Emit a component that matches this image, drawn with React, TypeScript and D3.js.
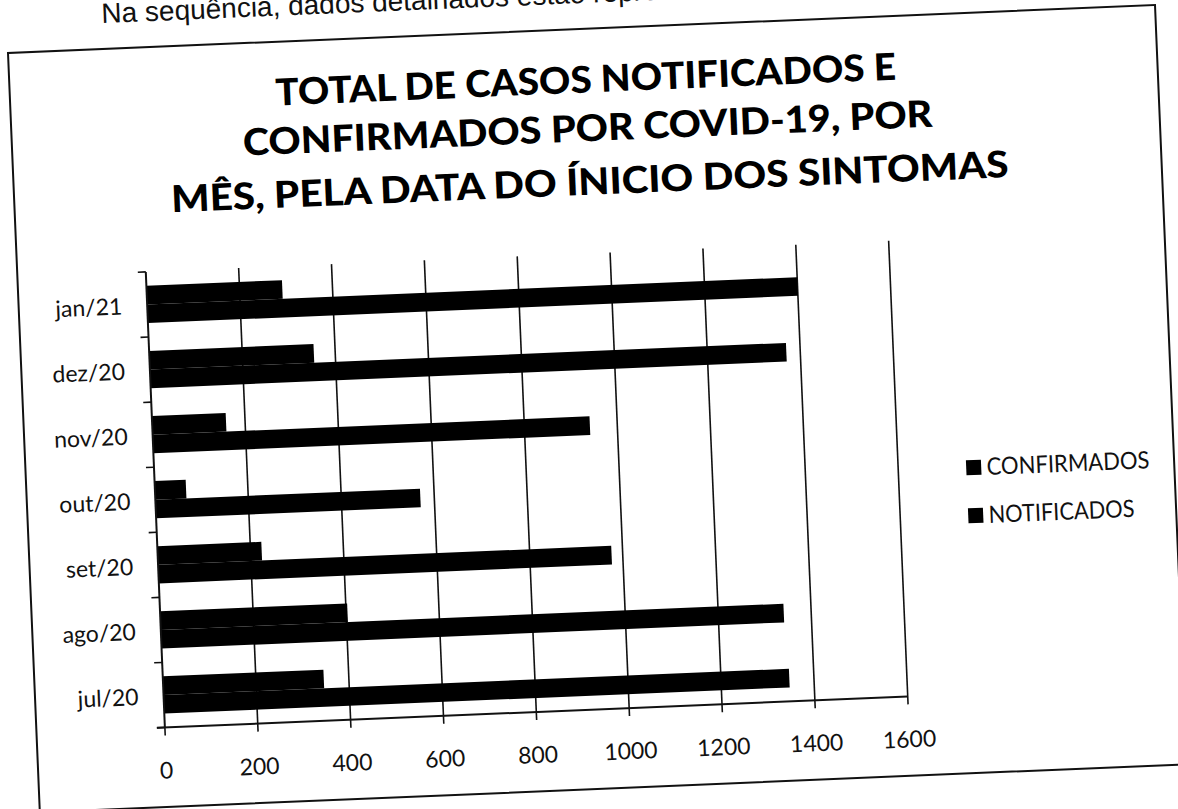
import React from "react"
import * as d3 from "d3"

// values (chronological order)
const months = ["jul/20", "ago/20", "set/20", "out/20", "nov/20", "dez/20", "jan/21"]
const confirmados = [346, 403, 224, 67, 159, 354, 292]
const notificados = [1347, 1341, 976, 570, 941, 1370, 1400]
const seriesNames = ["CONFIRMADOS", "NOTIFICADOS"]
const xTicks = [0, 200, 400, 600, 800, 1000, 1200, 1400, 1600]
const titleLines = [
  "TOTAL DE CASOS NOTIFICADOS E",
  "CONFIRMADOS POR COVID-19, POR",
  "MÊS, PELA DATA DO ÍNICIO DOS SINTOMAS",
]
const introText = "Na sequência, dados detalhados estão representados no gráfico abaixo."

const W = 1178
const H = 809
const font = "Lato, 'Open Sans', sans-serif"

const App = () => {
  const left = 136.5
  const right = 880
  const top = 277.5
  const bottom = 733.5

  const x = d3.scaleLinear().domain([0, 1600]).range([left, right])
  const y = d3
    .scaleBand()
    .domain([...months].reverse())
    .range([top, bottom])
    .paddingInner(0.428)
    .paddingOuter(0.214)
  const ySub = d3.scaleBand().domain(seriesNames).range([0, y.bandwidth()])

  const rows = months.map((m, i) => ({
    month: m,
    values: [confirmados[i], notificados[i]],
  }))

  const boundaries = d3.range(months.length + 1).map((i) => top + i * y.step())

  // title line geometry (baseline, width)
  const titleBase = [116.7, 165.4, 219]
  const titleWidth = [621, 690, 838]

  return (
    <svg
      width={W}
      height={H}
      style={{ position: "absolute", left: 0, top: 0, background: "#fff" }}
    >
      <rect width={W} height={H} fill="#fff" />
      <g transform="rotate(-2.4 8 53)">
        <text
          x={103}
          y={27}
          fontFamily="'Liberation Sans', Arial, sans-serif"
          fontSize={28}
          fill="#111"
        >
          {introText}
        </text>

        <rect x={8} y={53} width={1148} height={760} fill="none" stroke="#111" strokeWidth={2} />

        {titleLines.map((t, i) => (
          <text
            key={t}
            x={584}
            y={titleBase[i]}
            textAnchor="middle"
            fontFamily={font}
            fontWeight={900}
            fontSize={37}
            textLength={titleWidth[i]}
            lengthAdjust="spacingAndGlyphs"
            fill="#000"
          >
            {t}
          </text>
        ))}

        {/* gridlines */}
        {xTicks.slice(1).map((t) => (
          <line key={t} x1={x(t)} x2={x(t)} y1={top} y2={bottom + 8} stroke="#111" strokeWidth={1.6} />
        ))}
        {/* bars */}
        {rows.map((r) => (
          <g key={r.month} transform={`translate(0,${y(r.month)})`}>
            {r.values.map((v, j) => (
              <rect
                key={seriesNames[j]}
                x={x(0)}
                y={ySub(seriesNames[j])}
                width={x(v) - x(0)}
                height={ySub.bandwidth()}
                fill="#000"
              />
            ))}
          </g>
        ))}
        {/* axes */}
        <line x1={left} x2={left} y1={top} y2={bottom} stroke="#111" strokeWidth={2} />
        <line x1={left - 8} x2={right} y1={bottom} y2={bottom} stroke="#111" strokeWidth={2} />
        {boundaries.map((b, i) => (
          <line key={i} x1={left - 8} x2={left} y1={b} y2={b} stroke="#111" strokeWidth={1.6} />
        ))}
        <line x1={left} x2={left} y1={bottom} y2={bottom + 8} stroke="#111" strokeWidth={1.6} />
        {xTicks.map((t) => (
          <text
            key={t}
            x={x(t)}
            y={bottom + 42}
            textAnchor="middle"
            dominantBaseline="central"
            fontFamily={font}
            fontSize={23}
            fill="#111"
          >
            {t}
          </text>
        ))}
        {months.map((m) => (
          <text
            key={m}
            x={left - 25}
            y={(y(m) ?? 0) + y.bandwidth() / 2}
            textAnchor="end"
            dominantBaseline="central"
            fontFamily={font}
            fontSize={23}
            fill="#111"
          >
            {m}
          </text>
        ))}

        {/* legend */}
        {seriesNames.map((s, i) => (
          <g key={s} transform={`translate(948,${507.6 + i * 48})`}>
            <rect x={0} y={-7.5} width={15} height={15} fill="#000" />
            <text
              x={20.4}
              y={8}
              fontFamily={font}
              fontSize={24}
              textLength={i === 0 ? 163 : 146}
              lengthAdjust="spacingAndGlyphs"
              fill="#111"
            >
              {s}
            </text>
          </g>
        ))}
      </g>
    </svg>
  )
}

export default App
